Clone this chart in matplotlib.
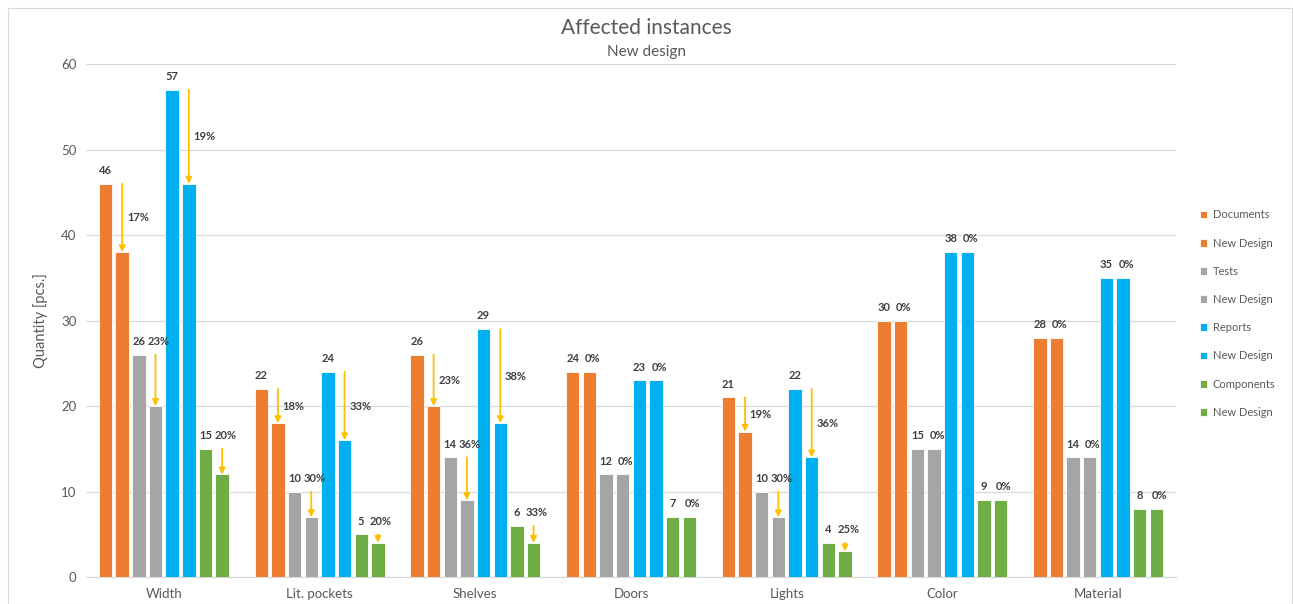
import numpy as np
import matplotlib.pyplot as plt
from matplotlib.patches import Rectangle

plt.rcParams['font.family'] = ['Lato', 'DejaVu Sans']

categories = ['Width', 'Lit. pockets', 'Shelves', 'Doors', 'Lights', 'Color', 'Material']
series_names = ['Documents', 'New Design', 'Tests', 'New Design',
                'Reports', 'New Design', 'Components', 'New Design']

documents = [46, 22, 26, 24, 21, 30, 28]
documents_new = [38, 18, 20, 24, 17, 30, 28]
tests = [26, 10, 14, 12, 10, 15, 14]
tests_new = [20, 7, 9, 12, 7, 15, 14]
reports = [57, 24, 29, 23, 22, 38, 35]
reports_new = [46, 16, 18, 23, 14, 38, 35]
components = [15, 5, 6, 7, 4, 9, 8]
components_new = [12, 4, 4, 7, 3, 9, 8]

pairs = [(documents, documents_new, '#ED7D31', 'side'),
         (tests, tests_new, '#A5A5A5', 'top'),
         (reports, reports_new, '#00B0F0', 'side'),
         (components, components_new, '#70AD47', 'top')]

text_col = '#404040'
grid_col = '#D9D9D9'
arrow_col = '#FFC000'

fig = plt.figure(figsize=(12.93, 6.04), dpi=100)
ax = fig.add_axes([0.0665, 0.0447, 0.8430, 0.8493])

x = np.arange(len(categories))
step = 0.107
bar_w = 0.086
offsets = (np.arange(8) - 3.5) * step

handles = []
for k, (old, new, color, mode) in enumerate(pairs):
    xo = x + offsets[2 * k]
    xn = x + offsets[2 * k + 1]
    h1 = ax.bar(xo, old, bar_w, color=color, edgecolor='white', linewidth=0.6, zorder=3)
    h2 = ax.bar(xn, new, bar_w, color=color, edgecolor='white', linewidth=0.6, zorder=3)
    handles += [h1, h2]
    for i in range(len(categories)):
        o, n = old[i], new[i]
        ax.text(xo[i], o + 0.9, f'{o}', ha='center', va='bottom', fontsize=8,
                fontweight='bold', color=text_col, zorder=5)
        pct = round((o - n) / o * 100)
        if o != n:
            ax.annotate('', xy=(xn[i], n), xytext=(xn[i], o),
                        arrowprops=dict(arrowstyle='-|>', color=arrow_col, lw=1.3,
                                        mutation_scale=9, shrinkA=0, shrinkB=0),
                        zorder=4)
        if o != n and mode == 'side':
            ax.text(xn[i] + 0.03, (o + n) / 2, f'{pct}%', ha='left', va='center',
                    fontsize=8, fontweight='bold', color=text_col, zorder=5)
        else:
            ax.text(xn[i] + 0.02, o + 0.9, f'{pct}%', ha='center', va='bottom',
                    fontsize=8, fontweight='bold', color=text_col, zorder=5)

ax.set_xlim(-0.5, len(categories) - 0.5)
ax.set_ylim(0, 60)
ax.set_yticks(range(0, 61, 10))
ax.set_xticks(x)
ax.set_xticklabels(categories)
ax.tick_params(length=0, labelsize=9.5, colors='#595959', pad=8)
ax.tick_params(axis='y', pad=7)
ax.yaxis.grid(True, color=grid_col, linewidth=0.9, zorder=0)
ax.set_axisbelow(True)
for side in ['top', 'right', 'left']:
    ax.spines[side].set_visible(False)
ax.spines['bottom'].set_color(grid_col)
ax.spines['bottom'].set_linewidth(0.9)
ax.set_ylabel('Quantity [pcs.]', fontsize=10.5, color='#595959', labelpad=9)

fig.text(0.5, 0.953, 'Affected instances', ha='center', va='center',
         fontsize=15, color='#595959')
fig.text(0.5, 0.914, 'New design', ha='center', va='center',
         fontsize=11, color='#595959')

leg = fig.legend(handles, series_names, loc='upper left',
                 bbox_to_anchor=(0.920, 0.670), frameon=False, fontsize=8,
                 handlelength=0.7, handleheight=0.7, handletextpad=0.5,
                 labelspacing=1.55, labelcolor='#595959')

# light frame around the whole chart
fig.patches.append(Rectangle((0.006, 0.0), 0.993, 0.986, transform=fig.transFigure,
                             fill=False, edgecolor='#D9D9D9', linewidth=0.8))

fig.savefig('out.png', dpi=100, facecolor='white')
